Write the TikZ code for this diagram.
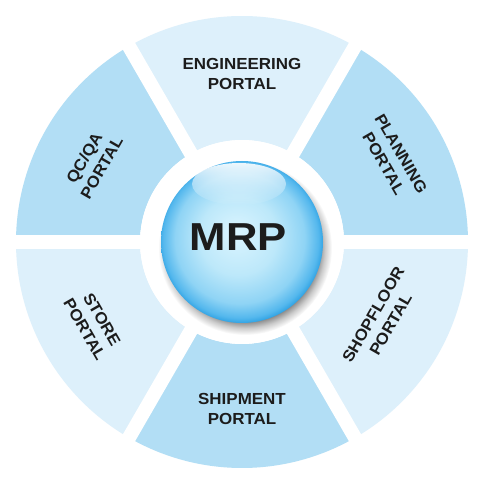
\documentclass[tikz,border=0pt]{standalone}
\usepackage{fontspec}
\setmainfont{Liberation Sans}
\newfontfamily\labfont{Liberation Sans}[FakeStretch=1.06]
\newfontfamily\mrpfont{Liberation Sans}[FakeStretch=1.12]
\usetikzlibrary{fadings,calc}
\definecolor{segdark}{RGB}{178,222,245}
\definecolor{seglight}{RGB}{221,240,251}
\definecolor{txt}{RGB}{28,28,28}
\pgfdeclareradialshading{mrpball}{\pgfpoint{-2bp}{3bp}}{%
 rgb(0bp)=(0.86,0.96,1.00);
 rgb(12bp)=(0.74,0.91,0.98);
 rgb(20bp)=(0.56,0.83,0.96);
 rgb(24bp)=(0.33,0.72,0.93);
 rgb(26bp)=(0.14,0.61,0.88);
 rgb(30bp)=(0.12,0.58,0.86)}
\pgfdeclareradialshading{mrpshadow}{\pgfpoint{0bp}{0bp}}{%
 rgb(0bp)=(0.50,0.50,0.50);
 rgb(21bp)=(0.52,0.52,0.52);
 rgb(23bp)=(0.80,0.80,0.80);
 rgb(25bp)=(1,1,1)}
\tikzfading[name=hlfade, top color=transparent!0, bottom color=transparent!100]
\tikzset{
  lab/.style={font=\labfont\bfseries\fontsize{16}{20}\selectfont, align=center, text=txt, inner sep=0pt},
  gapband/.style={white, line width=14pt},
}
\begin{document}
\begin{tikzpicture}[x=1pt,y=1pt]
\useasboundingbox[fill=white] (0,0) rectangle (480,480);
\coordinate (C) at (242,238);
% sectors
\foreach \a/\col in {0/segdark,60/seglight,120/segdark,180/seglight,240/segdark,300/seglight}{
  \fill[\col] ($(C)+(\a:226)$) arc[start angle=\a, end angle=\a+60, radius=226]
     -- ($(C)+(\a+60:102)$) arc[start angle=\a+60, end angle=\a, radius=102] -- cycle;
}
% gaps
\foreach \a in {0,60,120}{
  \draw[gapband] ($(C)+(\a:240)$) -- ($(C)+(\a+180:240)$);
}
\fill[white] (C) circle[radius=102];
% labels
\node[lab] (eng) at ($(C)+(90:168)$) {ENGINEERING\\PORTAL};
\node[lab, rotate=-60] (plan) at ($(C)+(29:172)$) {PLANNING\\PORTAL};
\node[lab, rotate=60] (shop) at ($(C)+(-29:160)$) {SHOPFLOOR\\PORTAL};
\node[lab] (ship) at ($(C)+(270:167)$) {SHIPMENT\\PORTAL};
\node[lab, rotate=-60] (store) at ($(C)+(209:170)$) {STORE\\PORTAL};
\node[lab, rotate=60] (qc) at ($(C)+(152:169)$) {QC/QA\\PORTAL};
% sphere
\shade[shading=mrpshadow] ($(C)+(3,-6)$) circle[radius=87];
\shade[shading=mrpball] (C) circle[radius=81];
\fill[white, opacity=0.9, path fading=hlfade] ($(C)+(-3,58)$) ellipse[x radius=47, y radius=21];
\node[font=\mrpfont\bfseries\fontsize{39}{39}\selectfont, text=txt, inner sep=0pt] (mrp) at ($(C)+(-3.5,4.5)$) {MRP};
\end{tikzpicture}
\end{document}
